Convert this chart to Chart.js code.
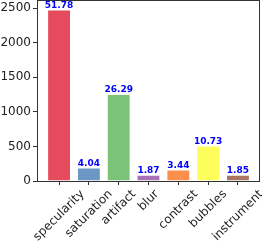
<!DOCTYPE html>
<html>
<head>
<meta charset="utf-8">
<script src="https://cdn.jsdelivr.net/npm/chart.js@4/dist/chart.umd.min.js"></script>
<style>
  body { margin: 0; background: #fff; }
  canvas { display: block; }
</style>
</head>
<body>
<canvas id="chart" width="262" height="244"></canvas>
<script>
"use strict"

const categories = ['specularity', 'saturation', 'artifact', 'blur', 'contrast', 'bubbles', 'instrument'];
const counts = [2484, 194, 1261, 90, 165, 515, 89];
const percents = ['51.78', '4.04', '26.29', '1.87', '3.44', '10.73', '1.85'];
const barColors = ['#e64b5d', '#6b97c5', '#7bc377', '#a672b5', '#fd8f4d', '#fdfd5c', '#ab7660'];
const yTicks = [0, 500, 1000, 1500, 2000, 2500];

const font = 'DejaVu Sans';
const textColor = '#222';

// frame around the plot area, like matplotlib spines
const framePlugin = {
    id: 'frame',
    afterDraw(chart) {
        const { ctx, chartArea: a } = chart;
        ctx.save();
        ctx.strokeStyle = '#333';
        ctx.lineWidth = 1;
        ctx.strokeRect(a.left + 0.5, a.top + 0.5, a.right - a.left - 1, a.bottom - a.top);
        ctx.restore();
    }
};

// percentage labels over each bar
const valueLabels = {
    id: 'valueLabels',
    afterDatasetsDraw(chart) {
        const { ctx } = chart;
        const meta = chart.getDatasetMeta(0);
        ctx.save();
        ctx.font = 'bold 9px "' + font + '"';
        ctx.fillStyle = '#0000ff';
        ctx.textAlign = 'center';
        ctx.textBaseline = 'bottom';
        meta.data.forEach((bar, i) => {
            ctx.fillText(percents[i], bar.x, bar.y + 0.5);
        });
        ctx.restore();
    }
};

// x labels rotated 45 degrees, centred under the tick (matplotlib ha='center')
const xLabels = {
    id: 'xLabels',
    afterDraw(chart) {
        const { ctx } = chart;
        const xs = chart.scales.x;
        const size = 12;
        const top = chart.chartArea.bottom + 7;
        ctx.save();
        ctx.font = size + 'px "' + font + '"';
        ctx.fillStyle = textColor;
        ctx.textAlign = 'center';
        ctx.textBaseline = 'middle';
        categories.forEach((name, i) => {
            const w = ctx.measureText(name).width;
            const h = size * 1.0;
            const boxH = (w + h) * Math.SQRT1_2;
            const x = xs.getPixelForValue(i);
            ctx.save();
            ctx.translate(x, top + boxH / 2);
            ctx.rotate(-Math.PI / 4);
            ctx.fillText(name, 0, 0);
            ctx.restore();
        });
        ctx.restore();
    }
};

new Chart(document.getElementById('chart'), {
    type: 'bar',
    data: {
        datasets: [{
            data: counts.map((v, i) => ({ x: i, y: v })),
            backgroundColor: barColors,
            borderColor: 'rgba(255,255,255,0.45)',
            borderWidth: 1,
            barPercentage: 0.8,
            categoryPercentage: 1.0
        }]
    },
    options: {
        responsive: false,
        animation: false,
        layout: { padding: { top: 0, right: 2, left: 0, bottom: 0 } },
        plugins: { legend: { display: false }, tooltip: { enabled: false } },
        scales: {
            x: {
                type: 'linear',
                min: -0.74,
                max: 6.74,
                offset: false,
                afterBuildTicks: axis => { axis.ticks = categories.map((_, i) => ({ value: i })); },
                afterFit: axis => {
                    axis.height = 63;
                    axis.paddingLeft = 0;
                    axis.paddingRight = 0;
                },
                grid: { offset: false, drawOnChartArea: false, drawTicks: true, tickLength: 4, color: '#333' },
                border: { display: false },
                ticks: { display: false }
            },
            y: {
                min: 0,
                max: 2620,
                afterBuildTicks: axis => { axis.ticks = yTicks.map(v => ({ value: v })); },
                afterFit: axis => {
                    axis.width = 37;
                    axis.paddingTop = 0;
                    axis.paddingBottom = 0;
                },
                grid: { drawOnChartArea: false, drawTicks: true, tickLength: 4, color: '#333' },
                border: { display: false },
                ticks: {
                    padding: 2,
                    color: textColor,
                    font: { family: font, size: 12 },
                    callback: v => String(v)
                }
            }
        }
    },
    plugins: [framePlugin, valueLabels, xLabels]
});
</script>
</body>
</html>
